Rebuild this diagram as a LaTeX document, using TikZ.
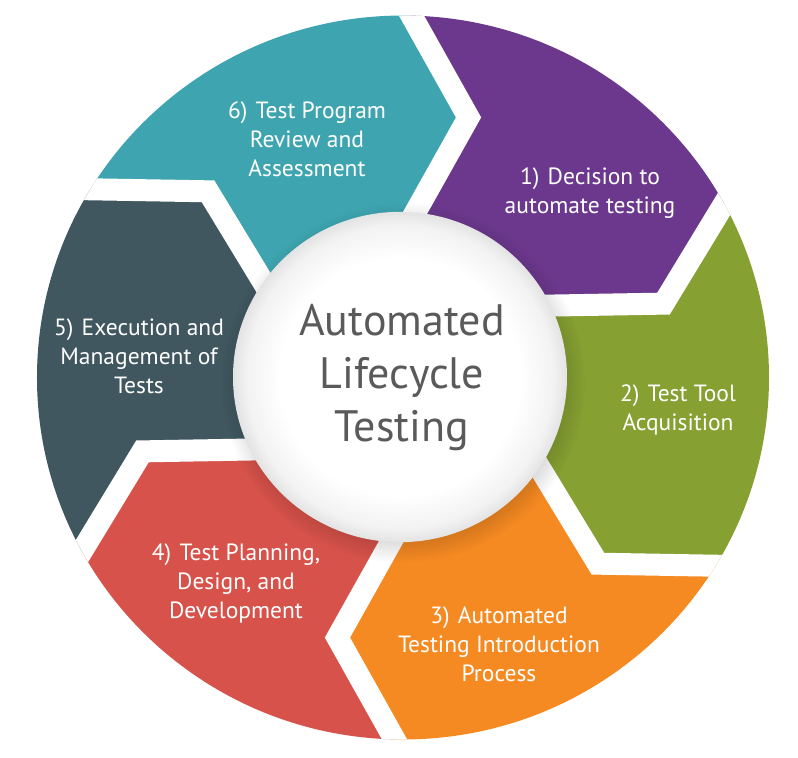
\documentclass[tikz,border=0pt]{standalone}
\usepackage{fontspec}
\setmainfont{PT Sans}
\usetikzlibrary{calc,fadings}

\definecolor{tealseg}{HTML}{3EA5B0}
\definecolor{purpleseg}{HTML}{6C388D}
\definecolor{greenseg}{HTML}{86A032}
\definecolor{orangeseg}{HTML}{F68A22}
\definecolor{redseg}{HTML}{D6524A}
\definecolor{slateseg}{HTML}{405760}
\definecolor{hubtext}{HTML}{5A5A5A}

\pgfdeclareradialshading{hubrim}{\pgfpointorigin}{color(0bp)=(white); color(18bp)=(white); color(23bp)=(black!5); color(25bp)=(black!11); color(50bp)=(black!11)}

\begin{document}
\begin{tikzpicture}[x=1pt,y=0.989pt]
        \def\ringR{366}
        \def\tipR{271}
        \tikzstyle{gapline} = [white, line width=22pt, line join=miter]
        \tikzstyle{seglabel} = [white, align=center, font=\fontsize{23.5}{29}\selectfont]
        % Fix the page to the size of the reference
        \useasboundingbox[fill=white] (-403,-384.7) rectangle (395,381.7);
        \begin{scope}
            \clip (0,0) circle (\ringR);
            % Draw the six coloured chevrons of the ring
            \foreach \a/\col in {136/tealseg, 76/purpleseg, 16/greenseg, -44/orangeseg, -104/redseg, -164/slateseg} {
                \pgfmathsetmacro{\b}{\a-60}
                \fill[\col] (0,0) -- ($(\a:\tipR)+(\a+165:200)$) -- (\a:\tipR) -- ($(\a:\tipR)+(\a+43:220)$)
                    -- (\a-30:520) -- ($(\b:\tipR)+(\b+43:220)$) -- (\b:\tipR) -- ($(\b:\tipR)+(\b+165:200)$) -- cycle;
            }
            % Cut the white gaps between neighbouring chevrons
            \foreach \a in {136,76,...,-164} {
                \draw[gapline] ($(\a:\tipR)+(\a+165:200)$) -- (\a:\tipR) -- ($(\a:\tipR)+(\a+43:220)$);
            }
        \end{scope}
        % Draw the white hub with its soft shadow
        \fill[black, opacity=0.22, path fading=circle with fuzzy edge 20 percent] (0,-5) circle (182);
        \shade[shading=hubrim] (-3,0.5) circle (167);
        \node[text=hubtext, align=center, font=\fontsize{44}{53}\selectfont] (hub) at (-1,0) {Automated\\Lifecycle\\Testing};
        % Draw the labels of the six steps
        \node[seglabel] (decide) at (187,186.5) {1)\hspace{0.35em}Decision to\\automate testing};
        \node[seglabel] (acquire) at (275,-33) {2)\hspace{0.35em}Test Tool\\Acquisition};
        \node[seglabel] (introduce) at (96,-269.5) {3)\hspace{0.35em}Automated\\Testing Introduction\\Process};
        \node[seglabel] (plan) at (-167,-207.8) {4)\hspace{0.35em}Test Planning,\\Design, and\\Development};
        \node[seglabel] (execute) at (-264,21.7) {5)\hspace{0.35em}Execution and\\Management of\\Tests};
        \node[seglabel] (review) at (-96,241) {6)\hspace{0.35em}Test Program\\Review and\\Assessment};

    \end{tikzpicture}
\end{document}
